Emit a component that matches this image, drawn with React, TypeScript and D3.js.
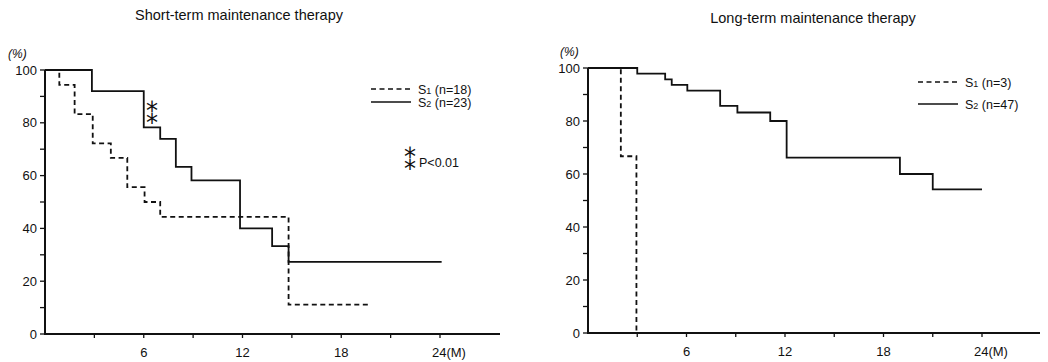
import React from "react";
import * as d3 from "d3";

// ---------- Data ----------
// Short-term maintenance therapy
const shortS1Times = [0, 0.87, 1.8, 2.9, 4.0, 5.0, 6.05, 7.0, 14.8];
const shortS1Values = [100, 94.4, 83.3, 72.2, 66.7, 55.6, 50, 44.4, 11.1];
const shortS1End = 19.8;

const shortS2Times = [0, 2.85, 6.0, 7.0, 7.95, 8.9, 11.85, 13.8, 14.8];
const shortS2Values = [100, 92, 78.3, 73.9, 63.3, 58.2, 40, 33.3, 27.3];
const shortS2End = 24.1;

// Long-term maintenance therapy
const longS1Times = [0, 2.0, 2.95];
const longS1Values = [100, 66.7, 0];
const longS1End = 2.95;

const longS2Times = [0, 3.0, 4.7, 5.1, 6.05, 8.05, 9.1, 11.1, 12.1, 19.0, 21.0];
const longS2Values = [100, 97.9, 95.7, 93.6, 91.5, 85.7, 83.2, 80, 66.2, 60, 54.2];
const longS2End = 24.0;

const yTickValues = [0, 10, 20, 30, 40, 50, 60, 70, 80, 90, 100];
const yLabelValues = [0, 20, 40, 60, 80, 100];
const xTickValues = [3, 6, 9, 12, 15, 18, 21, 24];
const xLabelValues = [6, 12, 18];

const FONT = "'Liberation Sans', Arial, Helvetica, sans-serif";

type PanelProps = {
  title: string;
  titleX: number;
  titleY: number;
  x0: number;
  x24: number;
  xAxisEnd: number;
  yTop: number;
  yBottom: number;
  pctX: number;
  s1: { times: number[]; values: number[]; end: number; label: string };
  s2: { times: number[]; values: number[]; end: number; label: string };
  legendX: number;
  legendY1: number;
  legendY2: number;
  children?: React.ReactNode;
};

function stepPath(
  x: d3.ScaleLinear<number, number>,
  y: d3.ScaleLinear<number, number>,
  times: number[],
  values: number[],
  end: number
) {
  const pts: [number, number][] = times.map((t, i) => [t, values[i]]);
  pts.push([end, values[values.length - 1]]);
  const line = d3
    .line<[number, number]>()
    .x((d) => x(d[0]))
    .y((d) => y(d[1]))
    .curve(d3.curveStepAfter);
  return line(pts) || "";
}

function Legend({ x, y, label, dashed }: { x: number; y: number; label: string; dashed: boolean }) {
  const sub = label.charAt(1);
  const rest = label.slice(2);
  return (
    <g>
      <line
        x1={x}
        x2={x + 40}
        y1={y}
        y2={y}
        stroke="#111"
        strokeWidth={1.5}
        strokeDasharray={dashed ? "5,3.5" : undefined}
      />
      <text x={x + 47} y={y + 4.5} fontSize={12.5} fontFamily={FONT} fill="#111">
        S<tspan fontSize={9}>{sub}</tspan>
        {rest}
      </text>
    </g>
  );
}

function Stars({ x, cy }: { x: number; cy: number }) {
  // two vertically stacked asterisks (U+2051), centred on cy
  return (
    <text
      x={x}
      y={cy}
      fontSize={24}
      fontFamily="'DejaVu Sans', sans-serif"
      fill="#111"
      textAnchor="middle"
      dominantBaseline="central"
    >
      ⁑
    </text>
  );
}

function Panel(p: PanelProps) {
  const x = d3.scaleLinear().domain([0, 24]).range([p.x0, p.x24]);
  const y = d3.scaleLinear().domain([0, 100]).range([p.yBottom, p.yTop]);
  return (
    <g>
      <text
        x={p.titleX}
        y={p.titleY}
        fontSize={14.5}
        fontFamily={FONT}
        fill="#111"
        textAnchor="middle"
      >
        {p.title}
      </text>
      {/* (%) */}
      <text x={p.pctX} y={y(100) - 12} fontSize={12} fontFamily={FONT} fill="#111" fontStyle="italic">
        (%)
      </text>
      {/* axes */}
      <line x1={p.x0} x2={p.x0} y1={y(100)} y2={y(0) + 1} stroke="#111" strokeWidth={2} />
      <line x1={p.x0 - 1} x2={p.xAxisEnd} y1={y(0)} y2={y(0)} stroke="#111" strokeWidth={2} />
      {yTickValues.map((v) => (
        <line key={"yt" + v} x1={p.x0 - 5} x2={p.x0} y1={y(v)} y2={y(v)} stroke="#111" strokeWidth={1.3} />
      ))}
      {yLabelValues.map((v) => (
        <text
          key={"yl" + v}
          x={p.x0 - 8}
          y={y(v) + 4.5}
          fontSize={13}
          fontFamily={FONT}
          fill="#111"
          textAnchor="end"
        >
          {v}
        </text>
      ))}
      {xTickValues.map((v) => (
        <line key={"xt" + v} x1={x(v)} x2={x(v)} y1={y(0)} y2={y(0) + 4} stroke="#111" strokeWidth={1.3} />
      ))}
      {xLabelValues.map((v) => (
        <text
          key={"xl" + v}
          x={x(v)}
          y={y(0) + 23}
          fontSize={13}
          fontFamily={FONT}
          fill="#111"
          textAnchor="middle"
        >
          {v}
        </text>
      ))}
      <text x={x(24) - 8} y={y(0) + 23} fontSize={13} fontFamily={FONT} fill="#111">
        24(M)
      </text>
      {/* curves */}
      <path
        d={stepPath(x, y, p.s1.times, p.s1.values, p.s1.end)}
        fill="none"
        stroke="#111"
        strokeWidth={1.8}
        strokeDasharray="5,3.5"
      />
      <path
        d={stepPath(x, y, p.s2.times, p.s2.values, p.s2.end)}
        fill="none"
        stroke="#111"
        strokeWidth={1.8}
      />
      <Legend x={p.legendX} y={p.legendY1} label={p.s1.label} dashed={true} />
      <Legend x={p.legendX} y={p.legendY2} label={p.s2.label} dashed={false} />
      {p.children}
    </g>
  );
}

export default function App() {
  return (
    <svg
      width={1048}
      height={362}
      style={{ position: "absolute", left: 0, top: 0, background: "#fff" }}
    >
      <rect width={1048} height={362} fill="#fff" />
      <Panel
        title="Short-term maintenance therapy"
        titleX={239}
        titleY={20}
        x0={45}
        x24={440}
        xAxisEnd={500}
        yTop={70}
        yBottom={334}
        pctX={8}
        s1={{ times: shortS1Times, values: shortS1Values, end: shortS1End, label: "S1 (n=18)" }}
        s2={{ times: shortS2Times, values: shortS2Values, end: shortS2End, label: "S2 (n=23)" }}
        legendX={371}
        legendY1={89}
        legendY2={102}
      >
        <Stars x={152} cy={116} />
        <Stars x={410} cy={161.5} />
        <text x={419} y={167} fontSize={12.5} fontFamily={FONT} fill="#111">P&lt;0.01</text>
      </Panel>
      <Panel
        title="Long-term maintenance therapy"
        titleX={813}
        titleY={23}
        x0={588}
        x24={982}
        xAxisEnd={1040}
        yTop={68}
        yBottom={333}
        pctX={560}
        s1={{ times: longS1Times, values: longS1Values, end: longS1End, label: "S1 (n=3)" }}
        s2={{ times: longS2Times, values: longS2Values, end: longS2End, label: "S2 (n=47)" }}
        legendX={918}
        legendY1={82}
        legendY2={104}
      />
    </svg>
  );
}
